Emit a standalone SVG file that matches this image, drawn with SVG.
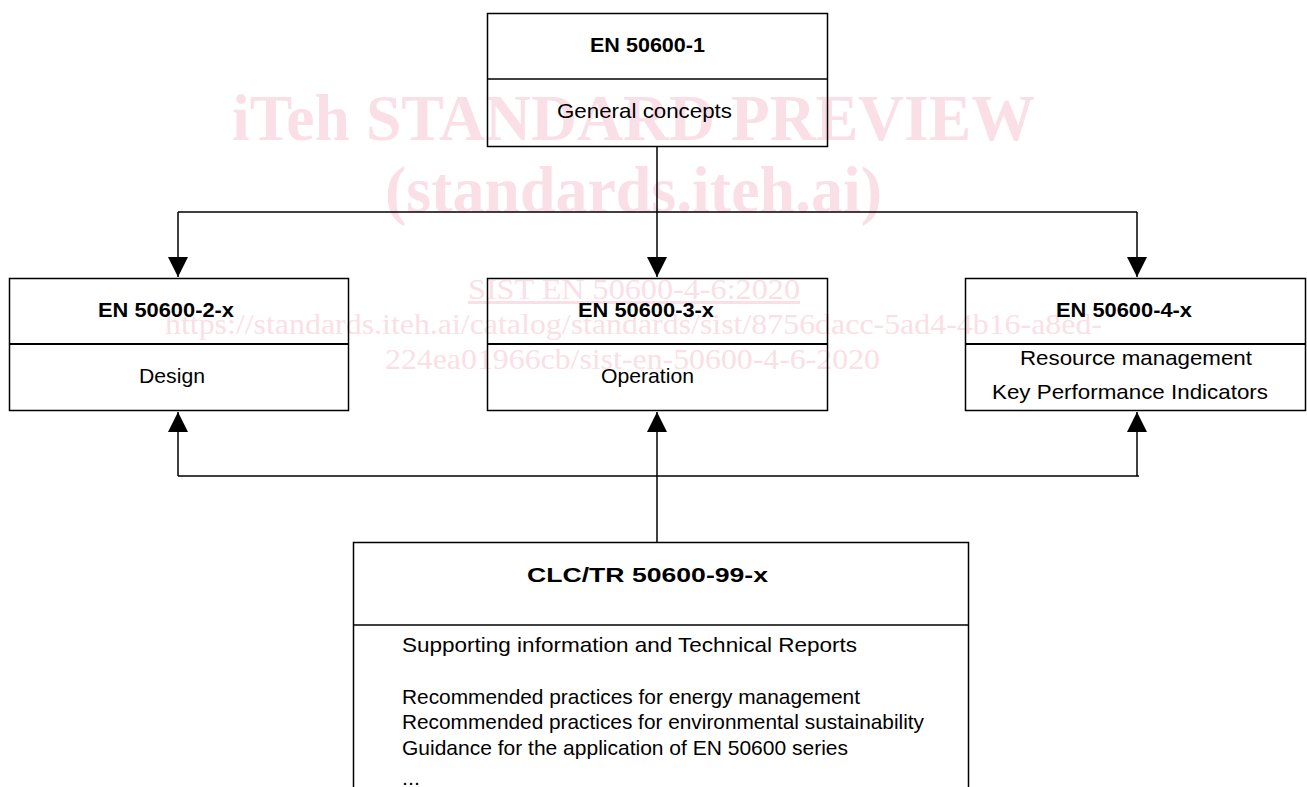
<svg xmlns="http://www.w3.org/2000/svg" width="1307" height="787" viewBox="0 0 1307 787">
<defs>
<style>
.box{fill:none;stroke:#000;stroke-width:1.5}
.div{stroke:#000;stroke-width:2}
.t{font-family:"Liberation Sans",Arial,sans-serif;font-size:21px;fill:#000}
.b{font-weight:bold;font-size:21px}
.wm{font-family:"Liberation Serif","Times New Roman",serif;fill:#fadfe7}
.wb{font-weight:bold;font-size:66px}
.ws{font-size:30px}
.ln{fill:none;stroke:#000;stroke-width:1.5}
</style>
<marker id="ah" viewBox="0 0 20 20" refX="20" refY="10" markerWidth="20" markerHeight="20" markerUnits="userSpaceOnUse" orient="auto">
<path d="M0,0 L20,10 L0,20 Z" fill="#000"/>
</marker>
</defs>
<rect width="1307" height="787" fill="#fff"/>
<g id="watermark">
<text class="wm wb" x="232" y="140" textLength="803" lengthAdjust="spacingAndGlyphs">iTeh STANDARD PREVIEW</text>
<text class="wm wb" x="385" y="212" textLength="497" lengthAdjust="spacingAndGlyphs">(standards.iteh.ai)</text>
<text class="wm ws" x="468" y="299" textLength="332" lengthAdjust="spacingAndGlyphs" text-decoration="underline">SIST EN 50600-4-6:2020</text>
<text class="wm ws" x="165" y="334" textLength="937" lengthAdjust="spacingAndGlyphs">https://standards.iteh.ai/catalog/standards/sist/8756dacc-5ad4-4b16-a8ed-</text>
<text class="wm ws" x="385" y="369" textLength="495" lengthAdjust="spacingAndGlyphs">224ea01966cb/sist-en-50600-4-6-2020</text>
</g>
<g id="connectors">
<line class="ln" x1="657" y1="146" x2="657" y2="277" marker-end="url(#ah)"/>
<polyline class="ln" points="178,212 1137,212"/>
<line class="ln" x1="178" y1="212" x2="178" y2="277" marker-end="url(#ah)"/>
<line class="ln" x1="1137" y1="212" x2="1137" y2="277" marker-end="url(#ah)"/>
<line class="ln" x1="657" y1="542" x2="657" y2="412" marker-end="url(#ah)"/>
<polyline class="ln" points="178,476 1139,476"/>
<line class="ln" x1="178" y1="476" x2="178" y2="412" marker-end="url(#ah)"/>
<line class="ln" x1="1137" y1="476" x2="1137" y2="412" marker-end="url(#ah)"/>
</g>
<g id="node-en50600-1">
<rect class="box" x="487.5" y="13.5" width="340" height="133"/>
<line class="div" x1="487.5" y1="79" x2="827.5" y2="79" style="stroke-width:1.5"/>
<text class="t b" x="590" y="52" textLength="115" lengthAdjust="spacingAndGlyphs">EN 50600-1</text>
<text class="t" x="557" y="118" textLength="175" lengthAdjust="spacingAndGlyphs">General  concepts</text>
</g>
<g id="node-en50600-2">
<rect class="box" x="9.5" y="278.5" width="339" height="132"/>
<line class="div" x1="9.5" y1="344" x2="348.5" y2="344"/>
<text class="t b" x="98" y="317" textLength="136" lengthAdjust="spacingAndGlyphs">EN 50600-2-x</text>
<text class="t" x="139" y="383" textLength="66" lengthAdjust="spacingAndGlyphs">Design</text>
</g>
<g id="node-en50600-3">
<rect class="box" x="487.5" y="278.5" width="340" height="132"/>
<line class="div" x1="487.5" y1="344" x2="827.5" y2="344"/>
<text class="t b" x="578" y="317" textLength="136" lengthAdjust="spacingAndGlyphs">EN 50600-3-x</text>
<text class="t" x="601" y="383" textLength="93" lengthAdjust="spacingAndGlyphs">Operation</text>
</g>
<g id="node-en50600-4">
<rect class="box" x="965.5" y="278.5" width="340" height="132"/>
<line class="div" x1="965.5" y1="344" x2="1305.5" y2="344"/>
<text class="t b" x="1056" y="317" textLength="136" lengthAdjust="spacingAndGlyphs">EN 50600-4-x</text>
<text class="t" x="1020" y="365" textLength="232" lengthAdjust="spacingAndGlyphs">Resource  management</text>
<text class="t" x="992" y="399" textLength="276" lengthAdjust="spacingAndGlyphs">Key  Performance  Indicators</text>
</g>
<g id="node-clc-tr-50600-99">
<path class="box" d="M353.5,790 V542.5 H968.5 V790"/>
<line class="div" x1="353.5" y1="625" x2="968.5" y2="625" style="stroke-width:1.5"/>
<text class="t b" x="527" y="582" textLength="241" lengthAdjust="spacingAndGlyphs">CLC/TR 50600-99-x</text>
<text class="t" x="402" y="652" textLength="455" lengthAdjust="spacingAndGlyphs">Supporting  information  and Technical  Reports</text>
<text class="t" x="402" y="704" textLength="458" lengthAdjust="spacingAndGlyphs">Recommended practices for energy management</text>
<text class="t" x="402" y="729" textLength="522" lengthAdjust="spacingAndGlyphs">Recommended practices for environmental  sustainability</text>
<text class="t" x="402" y="755" textLength="446" lengthAdjust="spacingAndGlyphs">Guidance for the application of EN 50600 series</text>
<text class="t" x="402" y="785" textLength="18" lengthAdjust="spacingAndGlyphs">...</text>
</g>
</svg>
